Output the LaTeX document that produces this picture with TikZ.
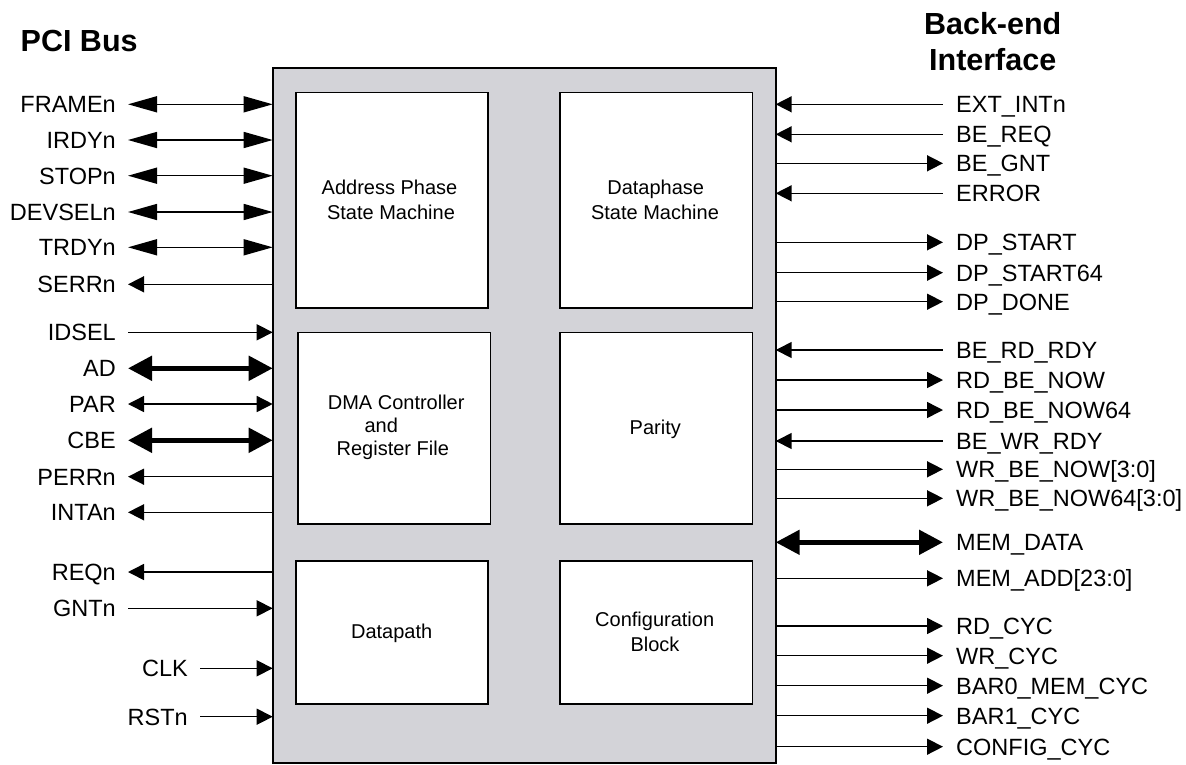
\documentclass[tikz,border=0pt]{standalone}
\usepackage{fontspec}
\setmainfont{Liberation Sans}
\usetikzlibrary{arrows.meta}
\definecolor{boxgray}{RGB}{211,211,216}
\tikzset{
  lbl/.style={font=\fontsize{23.5}{28}\selectfont, text height=16.8pt, text depth=0pt, inner ysep=0pt, inner xsep=12pt},
  lft/.style={lbl, anchor=east},
  rgt/.style={lbl, anchor=west, inner xsep=13pt},
  ttl/.style={font=\fontsize{30.5}{36}\selectfont\bfseries, inner sep=0pt},
  itx/.style={font=\fontsize{20}{24}\selectfont, text height=14.3pt, text depth=0pt, inner sep=0pt},
  blk/.style={draw, line width=1.7pt, fill=white, inner sep=0pt, outer sep=0pt},
  wire/.style={line width=1.5pt},
  bus/.style={line width=5pt},
  toR/.style={wire, -{Triangle[length=16pt,width=16pt]}},
  toL/.style={wire, {Triangle[length=16pt,width=16pt]}-},
  both/.style={wire, {Triangle[length=16pt,width=16pt]}-{Triangle[length=16pt,width=16pt]}},
  longboth/.style={wire, {Triangle[length=29pt,width=16pt]}-{Triangle[length=29pt,width=16pt]}},
  busboth/.style={bus, {Triangle[length=24pt,width=24pt]}-{Triangle[length=24pt,width=24pt]}}
}
\begin{document}
\begin{tikzpicture}[x=1pt,y=-1pt]
\useasboundingbox (0,0) rectangle (1186,764);
% main block
\node[draw, line width=1.8pt, fill=boxgray, minimum width=503pt, minimum height=694.7pt, inner sep=0pt, outer sep=0pt] (main) at (524.2,415.65) {};
% inner blocks
\node[blk, minimum width=192pt, minimum height=215.7pt] (apsm) at (392,200.2) {};
\node[blk, minimum width=192.3pt, minimum height=215.7pt] (dpsm) at (656.2,200.2) {};
\node[blk, minimum width=192.3pt, minimum height=191.7pt] (dma) at (394.2,428.2) {};
\node[blk, minimum width=192.3pt, minimum height=191.7pt] (par) at (656.2,428.2) {};
\node[blk, minimum width=192pt, minimum height=143.3pt] (dpath) at (392,632.3) {};
\node[blk, minimum width=192.3pt, minimum height=143.3pt] (cfg) at (656.2,632.3) {};
% inner texts
\node[itx] (ap1) at (389.5,187.2) {Address Phase};
\node[itx] (ap2) at (391,212.8) {State Machine};
\node[itx] (dp1) at (655.7,187.2) {Dataphase};
\node[itx] (dp2) at (655,212.8) {State Machine};
\node[itx] (dm1) at (396.2,402) {DMA Controller};
\node[itx] (dm2) at (381.2,425) {and};
\node[itx] (dm3) at (392.8,448.7) {Register File};
\node[itx] (pt1) at (655.3,427.5) {Parity};
\node[itx] (dt1) at (391.7,631.7) {Datapath};
\node[itx] (cf1) at (654.7,619) {Configuration};
\node[itx] (cf2) at (655,644.5) {Block};
% titles
\node[ttl, anchor=base west] (pci) at (20.5,51.7) {PCI Bus};
\node[ttl, anchor=base] (be1) at (992.7,34.3) {Back-end};
\node[ttl, anchor=base] (be2) at (992.7,70.7) {Interface};
% left labels
\node[lft] (frame) at (128,104.3) {FRAMEn};
\node[lft] (irdy) at (128,140) {IRDYn};
\node[lft] (stop) at (128,175.7) {STOPn};
\node[lft] (devsel) at (128,212) {DEVSELn};
\node[lft] (trdy) at (128,247.3) {TRDYn};
\node[lft] (serr) at (128,284.3) {SERRn};
\node[lft] (idsel) at (128,332.3) {IDSEL};
\node[lft] (ad) at (128,368.3) {AD};
\node[lft] (parl) at (128,404) {PAR};
\node[lft] (cbe) at (128,440.3) {CBE};
\node[lft] (perr) at (128,476.7) {PERRn};
\node[lft] (inta) at (128,512.3) {INTAn};
\node[lft] (req) at (128,572) {REQn};
\node[lft] (gnt) at (128,608.3) {GNTn};
\node[lft] (clk) at (200,668.3) {CLK};
\node[lft] (rst) at (200,716.7) {RSTn};
% left connectors
\draw[longboth] (frame.east) -- (frame.east -| main.west);
\draw[longboth] (irdy.east) -- (irdy.east -| main.west);
\draw[longboth] (stop.east) -- (stop.east -| main.west);
\draw[longboth] (devsel.east) -- (devsel.east -| main.west);
\draw[longboth] (trdy.east) -- (trdy.east -| main.west);
\draw[toL] (serr.east) -- (serr.east -| main.west);
\draw[toR] (idsel.east) -- (idsel.east -| main.west);
\draw[busboth] (ad.east) -- (ad.east -| main.west);
\draw[both] (parl.east) -- (parl.east -| main.west);
\draw[busboth] (cbe.east) -- (cbe.east -| main.west);
\draw[toL] (perr.east) -- (perr.east -| main.west);
\draw[toL] (inta.east) -- (inta.east -| main.west);
\draw[toL] (req.east) -- (req.east -| main.west);
\draw[toR] (gnt.east) -- (gnt.east -| main.west);
\draw[toR] (clk.east) -- (clk.east -| main.west);
\draw[toR] (rst.east) -- (rst.east -| main.west);
% right labels
\node[rgt] (extint) at (943,104.3) {EXT\_INTn};
\node[rgt] (bereq) at (943,134.3) {BE\_REQ};
\node[rgt] (begnt) at (943,163.3) {BE\_GNT};
\node[rgt] (error) at (943,193.3) {ERROR};
\node[rgt] (dpstart) at (943,242.3) {DP\_START};
\node[rgt] (dpstart64) at (943,272.7) {DP\_START64};
\node[rgt] (dpdone) at (943,301.7) {DP\_DONE};
\node[rgt] (berdrdy) at (943,350) {BE\_RD\_RDY};
\node[rgt] (rdbenow) at (943,380) {RD\_BE\_NOW};
\node[rgt] (rdbenow64) at (943,410) {RD\_BE\_NOW64};
\node[rgt] (bewrrdy) at (943,441) {BE\_WR\_RDY};
\node[rgt] (wrbenow) at (943,469.3) {WR\_BE\_NOW[3:0]};
\node[rgt] (wrbenow64) at (943,498.3) {WR\_BE\_NOW64[3:0]};
\node[rgt] (memdata) at (943,542.3) {MEM\_DATA};
\node[rgt] (memadd) at (943,578.3) {MEM\_ADD[23:0]};
\node[rgt] (rdcyc) at (943,626) {RD\_CYC};
\node[rgt] (wrcyc) at (943,655.7) {WR\_CYC};
\node[rgt] (bar0) at (943,685.7) {BAR0\_MEM\_CYC};
\node[rgt] (bar1) at (943,715.7) {BAR1\_CYC};
\node[rgt] (cfgcyc) at (943,746.7) {CONFIG\_CYC};
% right connectors
\draw[toL] (main.east |- extint.west) -- (extint.west);
\draw[toL] (main.east |- bereq.west) -- (bereq.west);
\draw[toR] (main.east |- begnt.west) -- (begnt.west);
\draw[toL] (main.east |- error.west) -- (error.west);
\draw[toR] (main.east |- dpstart.west) -- (dpstart.west);
\draw[toR] (main.east |- dpstart64.west) -- (dpstart64.west);
\draw[toR] (main.east |- dpdone.west) -- (dpdone.west);
\draw[toL] (main.east |- berdrdy.west) -- (berdrdy.west);
\draw[toR] (main.east |- rdbenow.west) -- (rdbenow.west);
\draw[toR] (main.east |- rdbenow64.west) -- (rdbenow64.west);
\draw[toL] (main.east |- bewrrdy.west) -- (bewrrdy.west);
\draw[toR] (main.east |- wrbenow.west) -- (wrbenow.west);
\draw[toR] (main.east |- wrbenow64.west) -- (wrbenow64.west);
\draw[busboth] (main.east |- memdata.west) -- (memdata.west);
\draw[toR] (main.east |- memadd.west) -- (memadd.west);
\draw[toR] (main.east |- rdcyc.west) -- (rdcyc.west);
\draw[toR] (main.east |- wrcyc.west) -- (wrcyc.west);
\draw[toR] (main.east |- bar0.west) -- (bar0.west);
\draw[toR] (main.east |- bar1.west) -- (bar1.west);
\draw[toR] (main.east |- cfgcyc.west) -- (cfgcyc.west);
\end{tikzpicture}
\end{document}
